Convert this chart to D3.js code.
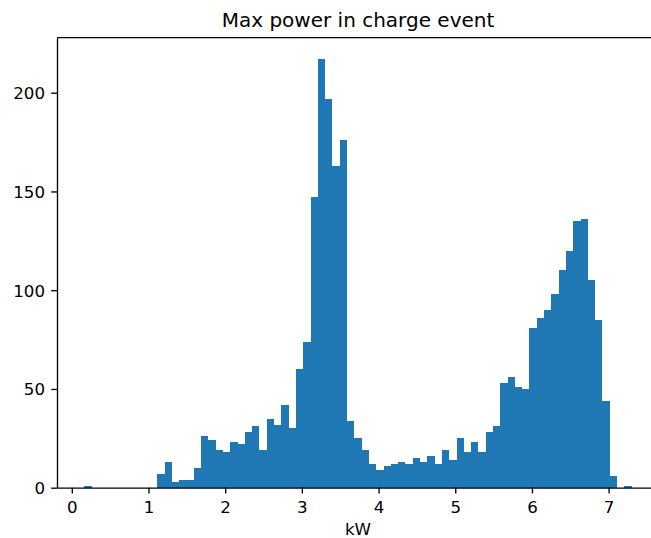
<!DOCTYPE html>
<html>
<head>
<meta charset="utf-8">
<script src="https://cdn.jsdelivr.net/npm/d3@7"></script>
<style>
  html, body { margin: 0; padding: 0; background: #ffffff; }
  svg { display: block; }
  text { font-family: "DejaVu Sans", sans-serif; fill: #000000; }
</style>
</head>
<body>
<div id="chart"></div>
<script>
// Histogram of the maximum power (kW) reached in each charge event: 75 equal bins
const dataMin = 0.164;
const dataMax = 7.300;
const binCount = 75;
const counts = [
  1, 0, 0, 0, 0, 0, 0, 0, 0, 0,
  7, 13, 3, 4, 4, 10, 26, 24, 19, 18,
  23, 22, 28, 31, 19, 35, 32, 42, 30, 60,
  74, 147, 217, 197, 163, 176, 34, 25, 19, 12,
  9, 11, 12, 13, 12, 15, 13, 16, 12, 19,
  14, 25, 18, 23, 18, 28, 31, 53, 56, 51,
  50, 81, 86, 90, 98, 110, 120, 135, 136, 105,
  85, 44, 6, 0, 1
];
const xTicks = [0, 1, 2, 3, 4, 5, 6, 7];
const yTicks = [0, 50, 100, 150, 200];
const titleText = "Max power in charge event";
const xLabelText = "kW";

const W = 651, H = 538;
const plot = { left: 57, right: 659, top: 37.7, bottom: 487.7 };
const barColor = "#1f77b4";
const tickFont = 16.67;

const binWidth = (dataMax - dataMin) / binCount;
const bins = counts.map((c, i) => ({
  x0: dataMin + i * binWidth,
  x1: dataMin + (i + 1) * binWidth,
  count: c
}));

// axis limits with 5% margins on x and headroom on y
const span = dataMax - dataMin;
const x = d3.scaleLinear()
  .domain([dataMin - 0.05 * span, dataMax + 0.05 * span])
  .range([plot.left, plot.right]);
const y = d3.scaleLinear()
  .domain([0, d3.max(counts) * 1.05])
  .range([plot.bottom, plot.top]);

const svg = d3.select("#chart").append("svg")
  .attr("width", W).attr("height", H);

svg.append("rect").attr("width", W).attr("height", H).attr("fill", "#ffffff");

// bars
svg.append("g").selectAll("rect")
  .data(bins.filter(b => b.count > 0))
  .join("rect")
  .attr("x", d => x(d.x0))
  .attr("width", d => x(d.x1) - x(d.x0))
  .attr("y", d => y(d.count))
  .attr("height", d => y(0) - y(d.count))
  .attr("fill", barColor)
  .attr("shape-rendering", "crispEdges");

const lineW = 1.33;
const tickLen = 5.8;

// bottom axis
const xAxis = svg.append("g")
  .attr("transform", `translate(0,${plot.bottom})`)
  .call(d3.axisBottom(x).tickValues(xTicks).tickFormat(d3.format("d"))
    .tickSize(tickLen).tickSizeOuter(0).tickPadding(7.2));
// left axis
const yAxis = svg.append("g")
  .attr("transform", `translate(${plot.left},0)`)
  .call(d3.axisLeft(y).tickValues(yTicks).tickFormat(d3.format("d"))
    .tickSize(tickLen).tickSizeOuter(0).tickPadding(6.2));

[xAxis, yAxis].forEach(g => {
  g.selectAll("path.domain").attr("stroke", "#000").attr("stroke-width", lineW);
  g.selectAll(".tick line").attr("stroke", "#000").attr("stroke-width", lineW);
  g.selectAll(".tick text")
    .style("font-family", "'DejaVu Sans', sans-serif")
    .style("font-size", tickFont + "px")
    .attr("fill", "#000");
});
yAxis.selectAll(".tick text").attr("dy", "0.36em");
xAxis.selectAll(".tick text").attr("dy", "0.75em");

// top spine
svg.append("line")
  .attr("x1", plot.left).attr("x2", plot.right)
  .attr("y1", plot.top).attr("y2", plot.top)
  .attr("stroke", "#000").attr("stroke-width", lineW);
// right spine (falls outside the visible width)
svg.append("line")
  .attr("x1", plot.right).attr("x2", plot.right)
  .attr("y1", plot.top).attr("y2", plot.bottom)
  .attr("stroke", "#000").attr("stroke-width", lineW);

const cx = (plot.left + plot.right) / 2;

// title
svg.append("text")
  .attr("x", cx).attr("y", 26.6)
  .attr("text-anchor", "middle")
  .style("font-size", "20px")
  .text(titleText);

// x-axis label
svg.append("text")
  .attr("x", cx).attr("y", 534.5)
  .attr("text-anchor", "middle")
  .style("font-size", tickFont + "px")
  .text(xLabelText);
</script>
</body>
</html>
